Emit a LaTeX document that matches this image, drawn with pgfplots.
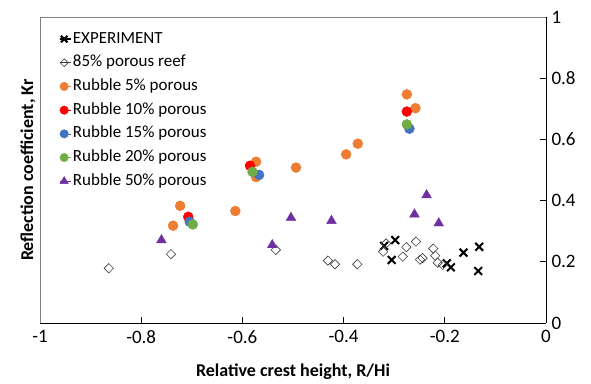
\documentclass[border=0pt]{standalone}
\usepackage{fontspec}
\setmainfont{Carlito}
\usepackage{pgfplots}
\pgfplotsset{compat=1.18}
\definecolor{cOrange}{HTML}{ED7D31}
\definecolor{cRed}{HTML}{FF0000}
\definecolor{cBlue}{HTML}{4472C4}
\definecolor{cGreen}{HTML}{70AD47}
\definecolor{cPurple}{HTML}{7030A0}
\begin{document}
\begin{tikzpicture}
\useasboundingbox (-40pt,-60pt) rectangle (551pt,323pt);
\begin{axis}[
  scale only axis, width=506pt, height=306pt,
  xmin=-1, xmax=0, ymin=0, ymax=1,
  axis x line*=bottom, axis y line*=right,
  axis line style={-, black, line width=0.7pt},
  xtick={-1,-0.8,-0.6,-0.4,-0.2,0},
  xticklabels={-1,-0.8,-0.6,-0.4,-0.2,0},
  ytick={0,0.2,0.4,0.6,0.8,1},
  yticklabels={0,0.2,0.4,0.6,0.8,1},
  tick align=inside, major tick length=6pt,
  tick style={black, line width=0.7pt},
  ticklabel style={font=\fontsize{19}{22}\selectfont},
  xticklabel style={yshift=-4pt},
  yticklabel style={anchor=west, xshift=2pt},
  xlabel={\textbf{Relative crest height, R/Hi}},
  ylabel={\textbf{Reflection coefficient, Kr}},
  every axis x label/.style={at={(axis description cs:0.5,-0.16)}, anchor=center, font=\fontsize{18}{21}\selectfont},
  every axis y label/.style={at={(axis description cs:-0.0237,0.5)}, anchor=center, rotate=90, font=\fontsize{18}{21}\selectfont},
  legend style={draw=none, fill=none, at={(axis description cs:0.037,0.958)}, anchor=north west,
    font=\fontsize{17}{17}\selectfont, row sep=5.7pt, inner sep=0pt,
    nodes={inner sep=1pt, text height=12pt, text depth=4pt}},
  legend cell align=left,
  legend image code/.code={\path (0pt,0pt) rectangle (11pt,0pt); \draw[#1, scale=0.85] plot coordinates {(5pt,0pt)};},
]
\draw[gray, line width=0.7pt] (rel axis cs:0,0) -- (rel axis cs:0,1) -- (rel axis cs:1,1);
\addplot[only marks, mark=x, mark size=5.5pt, line width=2pt, black]
 coordinates {(-0.320,0.252) (-0.298,0.271) (-0.305,0.206) (-0.196,0.195) (-0.188,0.182) (-0.163,0.230) (-0.132,0.249) (-0.134,0.170)};
\addlegendentry{EXPERIMENT}
\addplot[only marks, mark=square, mark size=3.3pt, mark options={rotate=45}, line width=0.6pt, black!75]
 coordinates {(-0.864,0.179) (-0.741,0.225) (-0.534,0.239) (-0.431,0.204) (-0.417,0.192) (-0.373,0.192) (-0.322,0.233) (-0.316,0.260) (-0.283,0.217) (-0.276,0.248) (-0.257,0.266) (-0.249,0.207) (-0.244,0.212) (-0.223,0.243) (-0.219,0.220) (-0.214,0.197) (-0.204,0.190)};
\addlegendentry{85\% porous reef}
\addplot[only marks, mark=*, mark size=5pt, cOrange, mark options={draw=cOrange, fill=cOrange}]
 coordinates {(-0.723,0.383) (-0.737,0.318) (-0.614,0.366) (-0.573,0.527) (-0.573,0.477) (-0.494,0.508) (-0.395,0.551) (-0.372,0.586) (-0.275,0.747) (-0.258,0.702)};
\addlegendentry{Rubble 5\% porous}
\addplot[only marks, mark=*, mark size=5pt, cRed, mark options={draw=cRed, fill=cRed}]
 coordinates {(-0.707,0.347) (-0.585,0.514) (-0.275,0.691)};
\addlegendentry{Rubble 10\% porous}
\addplot[only marks, mark=*, mark size=5pt, cBlue, mark options={draw=cBlue, fill=cBlue}]
 coordinates {(-0.704,0.331) (-0.567,0.484) (-0.270,0.635)};
\addlegendentry{Rubble 15\% porous}
\addplot[only marks, mark=*, mark size=5pt, cGreen, mark options={draw=cGreen, fill=cGreen}]
 coordinates {(-0.698,0.322) (-0.580,0.494) (-0.275,0.649)};
\addlegendentry{Rubble 20\% porous}
\addplot[only marks, mark=triangle*, mark size=5.6pt, cPurple, mark options={draw=cPurple, fill=cPurple}]
 coordinates {(-0.760,0.271) (-0.541,0.255) (-0.504,0.344) (-0.424,0.334) (-0.236,0.418) (-0.260,0.355) (-0.212,0.326)};
\addlegendentry{Rubble 50\% porous}
\end{axis}
\end{tikzpicture}
\end{document}
